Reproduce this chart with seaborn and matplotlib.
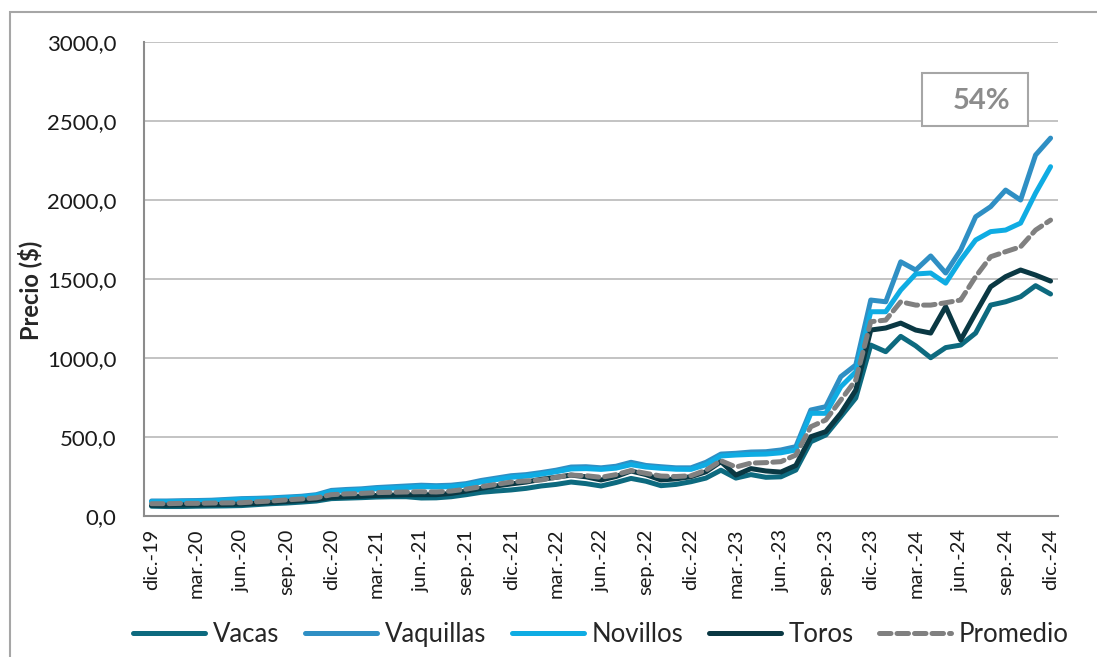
import numpy as np
import pandas as pd
import matplotlib.pyplot as plt
import seaborn as sns
from matplotlib.ticker import FuncFormatter, FixedLocator
from matplotlib.patches import Rectangle
from matplotlib.lines import Line2D

# %% - datos (precios mensuales dic-19 .. dic-24)
meses = ["ene", "feb", "mar", "abr", "may", "jun", "jul", "ago", "sep", "oct", "nov", "dic"]
fechas = ["dic.-19"] + [f"{m}.-{a}" for a in range(20, 25) for m in meses]

vacas = [62, 60, 60, 62, 63, 64, 66, 72, 78, 82, 88, 95, 110, 113, 116, 120, 122, 122, 114, 115,
         122, 135, 150, 158, 165, 175, 190, 200, 215, 205, 190, 212, 238, 220, 192, 200, 217, 240,
         290, 240, 262, 245, 248, 291, 470, 513, 629, 747, 1082, 1040, 1137, 1077, 1002, 1066, 1082,
         1158, 1335, 1356, 1388, 1458, 1405]
vaquillas = [95, 95, 97, 98, 100, 105, 110, 112, 115, 120, 125, 135, 162, 168, 172, 180, 185, 190,
             195, 192, 195, 205, 225, 240, 255, 262, 275, 290, 310, 312, 305, 315, 340, 320, 312,
             305, 305, 340, 392, 397, 405, 407, 418, 439, 671, 692, 882, 956, 1367, 1356, 1609,
             1557, 1646, 1538, 1684, 1894, 1958, 2063, 2000, 2285, 2392]
novillos = [90, 90, 92, 93, 95, 100, 105, 107, 110, 115, 120, 130, 155, 160, 165, 172, 176, 180,
            186, 183, 186, 196, 215, 230, 245, 252, 265, 280, 298, 300, 295, 303, 325, 310, 302,
            296, 295, 325, 380, 386, 390, 392, 400, 418, 650, 650, 818, 913, 1293, 1293, 1430,
            1532, 1538, 1474, 1620, 1747, 1800, 1810, 1854, 2044, 2211]
toros = [68, 68, 70, 70, 72, 73, 75, 80, 85, 92, 98, 105, 118, 122, 125, 130, 132, 134, 135, 135,
         143, 158, 175, 190, 203, 215, 232, 245, 259, 248, 228, 250, 285, 262, 228, 235, 249, 280,
         344, 259, 300, 285, 278, 320, 502, 534, 650, 797, 1177, 1190, 1221, 1177, 1158, 1325,
         1114, 1285, 1451, 1515, 1557, 1525, 1487]
promedio = [78, 78, 80, 80, 82, 83, 84, 90, 95, 102, 108, 115, 135, 140, 143, 148, 150, 152, 154,
            152, 158, 170, 186, 200, 215, 222, 228, 245, 259, 255, 245, 262, 288, 270, 253, 250,
            255, 290, 350, 310, 335, 338, 344, 386, 565, 608, 734, 861, 1230, 1240, 1356, 1335,
            1335, 1350, 1367, 1515, 1641, 1673, 1704, 1810, 1873]

series = ["Vacas", "Vaquillas", "Novillos", "Toros", "Promedio"]
colores = {
    "Vacas": "#0D6A7F",
    "Vaquillas": "#2F8FC4",
    "Novillos": "#0FACE3",
    "Toros": "#0A3843",
    "Promedio": "#808080",
}

# %% - dataframe largo para seaborn
idx = np.arange(len(fechas))
df = pd.concat(
    [
        pd.DataFrame({"idx": idx, "Precio": vals, "Serie": nombre})
        for nombre, vals in zip(series, [vacas, vaquillas, novillos, toros, promedio])
    ],
    ignore_index=True,
)

# %% - grafico
sns.set_style("white")
plt.rcParams["font.family"] = ["Lato", "DejaVu Sans"]

fig = plt.figure(figsize=(10.97, 6.57), dpi=100)
ax = fig.add_axes([0.1313, 0.2146, 0.8332, 0.7214])

lw = 3.6
dash = (2.3, 1.2)
dashes = {s: "" for s in series}
dashes["Promedio"] = dash
sns.lineplot(
    data=df, x="idx", y="Precio", hue="Serie", style="Serie",
    hue_order=series, style_order=series, palette=colores, dashes=dashes,
    linewidth=lw, legend=False, ax=ax,
)
for ln in ax.get_lines():
    ln.set_solid_joinstyle("round")
    ln.set_solid_capstyle("round")
    ln.set_dash_capstyle("round")

# Ejes
ax.set_xlim(-0.5, len(fechas) - 0.5)
ax.set_ylim(0, 3000)
ax.set_yticks(np.arange(0, 3001, 500))
ax.yaxis.set_major_formatter(FuncFormatter(lambda v, p: f"{v:.1f}".replace(".", ",")))
ax.grid(axis="y", color="#BEBEBE", linewidth=1.3)
ax.set_axisbelow(True)

ax.set_xticks(idx[::3])
ax.set_xticklabels(fechas[::3], rotation=90)
ax.xaxis.set_minor_locator(FixedLocator(idx[::3] - 0.5))
ax.tick_params(axis="x", which="major", length=0, pad=9, labelsize=14.5, colors="#1A1A1A")
ax.tick_params(axis="x", which="minor", length=6, width=1.2, color="#8C8C8C", direction="out")
ax.tick_params(axis="y", length=0, pad=20, labelsize=16, colors="#1A1A1A")

for s in ["top", "right"]:
    ax.spines[s].set_visible(False)
for s in ["left", "bottom"]:
    ax.spines[s].set_color("#8C8C8C")
    ax.spines[s].set_linewidth(1.5)

ax.set_xlabel("")
ax.set_ylabel("Precio ($)", fontsize=17, fontweight="bold")
ax.yaxis.set_label_coords(-0.112, 0.477)

# Cuadro 54%
ax.add_patch(Rectangle((0.851, 0.822), 0.116, 0.113, transform=ax.transAxes,
                       facecolor="white", edgecolor="#A6A6A6", linewidth=1.5, zorder=5))
ax.text(0.916, 0.876, "54%", transform=ax.transAxes, ha="center", va="center",
        fontsize=21, fontweight="bold", color="#8C8C8C", zorder=6)

# Leyenda
handles = [
    Line2D([], [], color=colores[s], linewidth=lw, solid_capstyle="round",
           dash_capstyle="round", linestyle=(0, dash) if s == "Promedio" else "-")
    for s in series
]
fig.legend(handles, series, loc="center", bbox_to_anchor=(0.548, 0.035), ncol=5,
           frameon=False, fontsize=18.5, handlelength=2.8, handletextpad=0.3,
           columnspacing=1.0, borderaxespad=0)

# Marco de la figura
fig.add_artist(Rectangle((10 / 1097, -0.1), 1.2, 1.1 - 12 / 657, transform=fig.transFigure,
                         fill=False, edgecolor="#A6A6A6", linewidth=1.5))

fig.savefig("out.png", dpi=100)
